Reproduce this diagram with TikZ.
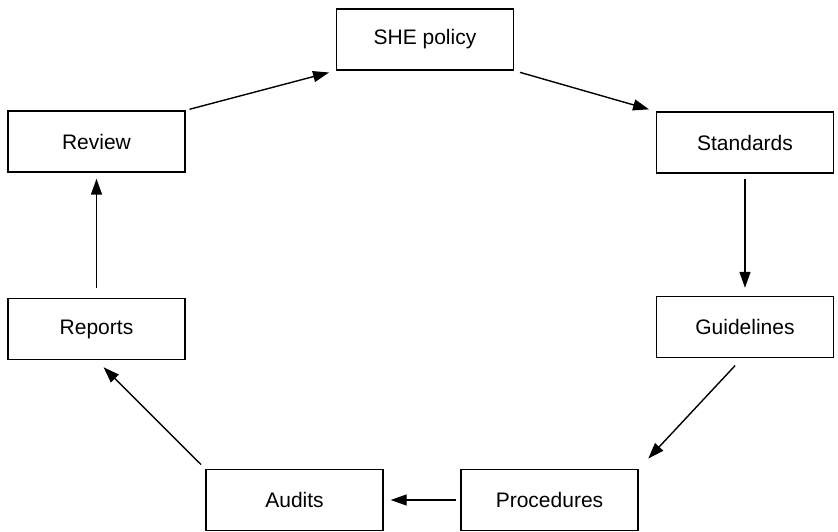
\documentclass[tikz,border=0pt]{standalone}
\usepackage{fontspec}
\setmainfont{Liberation Sans}
\usetikzlibrary{arrows.meta}
\begin{document}
\begin{tikzpicture}[x=0.5bp,y=-0.5bp,
  stage/.style={draw, line width=0.7bp, minimum width=88.5bp, minimum height=30.5bp,
    inner sep=0pt, font=\fontsize{10.5bp}{12bp}\selectfont},
  flow/.style={-{Triangle[length=8bp,width=5.5bp]}, line width=0.7bp}]
\useasboundingbox (0,0) rectangle (838,532);

% the seven stages of the cycle
\node[stage] (policy)     at (425,39.5)  {SHE policy};
\node[stage] (standards)  at (745,142.5) {Standards};
\node[stage] (guidelines) at (745,327)   {Guidelines};
\node[stage] (procedures) at (549.5,500) {Procedures};
\node[stage] (audits)     at (294.5,500) {Audits};
\node[stage] (reports)    at (96.5,329)  {Reports};
\node[stage] (review)     at (96.5,141.5) {Review};

% connectors, running clockwise
\draw[flow, shorten <=2bp, shorten >=3.5bp] (review.north east) -- (policy.south west);
\draw[flow, shorten <=3bp, shorten >=3.5bp] (policy.south east) -- (standards.north west);
\draw[flow, shorten <=2.5bp, shorten >=4bp] (standards.south) -- (guidelines.south |- guidelines.north);
\draw[flow, shorten <=5bp, shorten >=7bp] ([xshift=-1.5bp]guidelines.south) -- (procedures.north east);
\draw[flow, shorten <=2bp, shorten >=3.5bp] (procedures.west) -- (audits.east);
\draw[flow, shorten <=3bp, shorten >=5bp] (audits.north west) -- (reports.south);
\draw[flow, shorten <=5bp, shorten >=3bp] (reports.north) -- (review.south);
\end{tikzpicture}
\end{document}
